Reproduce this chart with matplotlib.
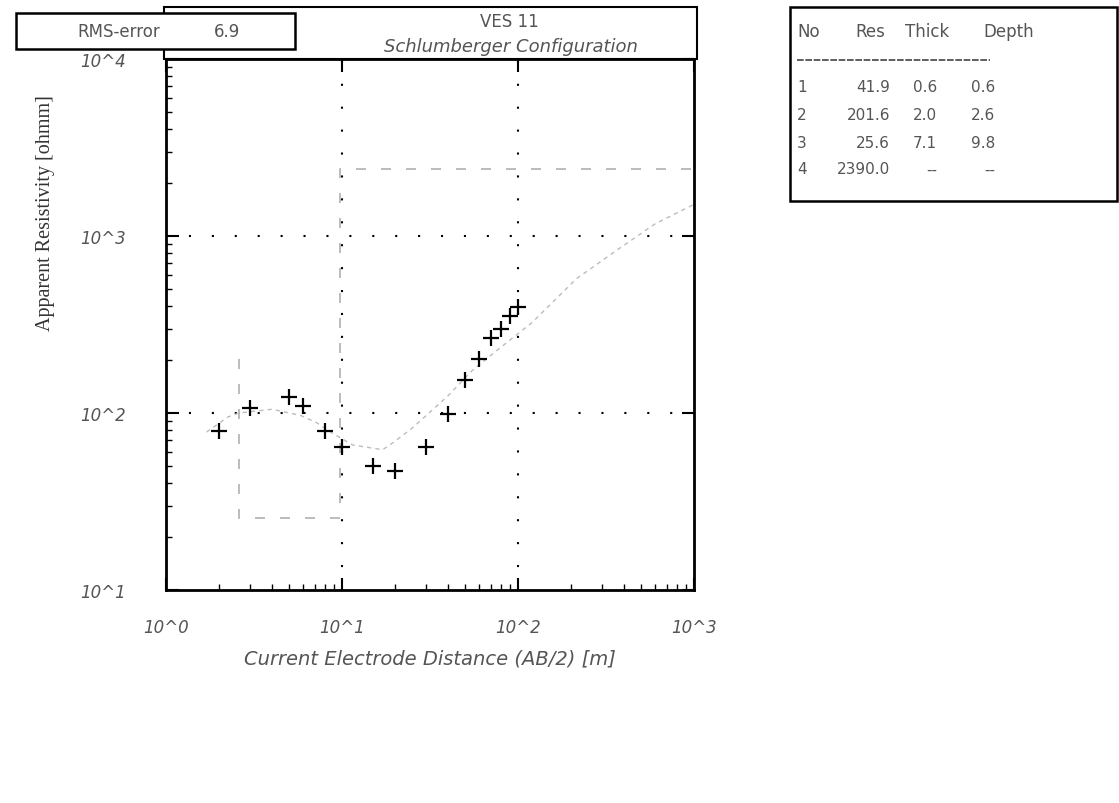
import matplotlib
matplotlib.use("Agg")
import matplotlib.pyplot as plt
from matplotlib.patches import Rectangle
from matplotlib.lines import Line2D
from matplotlib.ticker import FixedLocator, FixedFormatter, LogLocator, NullFormatter

W, H = 1119, 804

# field data: half current electrode spacing AB/2 [m] and apparent resistivity [ohm m]
ab2 = [2, 3, 5, 6, 8, 10, 15, 20, 30, 40, 50, 60, 70, 80, 90, 100]
rho_app = [79, 107, 123, 109, 79, 64, 50, 47, 64, 99, 153, 201, 267, 300, 351, 399]

# theoretical curve of the fitted model
model_ab2 = [1.7, 2.25, 2.6, 4.0, 5.8, 7.2, 8.8, 11.5, 17, 19.5, 25, 40, 55, 76, 120, 215, 380, 600, 1000]
model_rho = [78, 95, 100, 105, 97, 88, 77, 66, 62, 68, 82, 125, 174, 226, 324, 574, 856, 1170, 1510]

# layered model
layer_no = [1, 2, 3, 4]
layer_res = [41.9, 201.6, 25.6, 2390.0]
layer_thick = [0.6, 2.0, 7.1]
layer_depth = [0.6, 2.6, 9.8]

xticks = [1, 10, 100, 1000]
xtick_labels = ["10^0", "10^1", "10^2", "10^3"]
yticks = [10, 100, 1000, 10000]
ytick_labels = ["10^1", "10^2", "10^3", "10^4"]

station = "VES 11"
config = "Schlumberger Configuration"
rms_error = 6.9


def fx(px):
    return px / W


def fy(py):
    return 1 - py / H


fig = plt.figure(figsize=(W / 100, H / 100), dpi=100)
ax = fig.add_axes([fx(166), fy(591), fx(694) - fx(166), fy(60) - fy(591)])
ax.set_xscale("log")
ax.set_yscale("log")
ax.set_xlim(1, 1000)
ax.set_ylim(10, 10000)

# dotted grid at inner decades
for v in xticks[1:-1]:
    ax.axvline(v, color="black", lw=1.5, ls=(0, (1, 10)), zorder=1)
for v in yticks[1:-1]:
    ax.axhline(v, color="black", lw=1.5, ls=(0, (1, 10)), zorder=1)

# step line of the layered model (from the base of layer 2 downwards)
step_x = []
step_y = []
for i in range(1, len(layer_depth)):
    d = layer_depth[i]
    step_x += [d, d]
    step_y += [layer_res[i], layer_res[i + 1]]
step_x.append(1000)
step_y.append(layer_res[-1])
ax.plot(step_x, step_y, color="#b0b0b0", lw=1.2, ls=(0, (6, 9)), zorder=2)

# model response curve
ax.plot(model_ab2, model_rho, color="#bcbcbc", lw=1.0, ls=(0, (3, 3)), zorder=2)

# field data
ax.plot(ab2, rho_app, ls="none", marker="+", color="black", ms=12, mew=1.6, zorder=3)

for s in ax.spines.values():
    s.set_linewidth(2)

ax.xaxis.set_major_locator(FixedLocator(xticks))
ax.xaxis.set_major_formatter(FixedFormatter(xtick_labels))
ax.yaxis.set_major_locator(FixedLocator(yticks))
ax.yaxis.set_major_formatter(FixedFormatter(ytick_labels))
ax.xaxis.set_minor_locator(LogLocator(base=10, subs=range(2, 10)))
ax.yaxis.set_minor_locator(LogLocator(base=10, subs=range(2, 10)))
ax.xaxis.set_minor_formatter(NullFormatter())
ax.yaxis.set_minor_formatter(NullFormatter())
ax.tick_params(which="major", direction="in", length=9, width=1.5,
               top=True, right=True, labelsize=12)
ax.tick_params(axis="x", which="major", pad=20)
ax.tick_params(axis="y", which="major", pad=29)
ax.tick_params(which="minor", direction="in", length=4, width=1,
               top=False, right=False)
for lab in ax.get_xticklabels() + ax.get_yticklabels():
    lab.set_fontstyle("italic")
    lab.set_color("#555555")

ax.set_xlabel("Current Electrode Distance (AB/2) [m]", fontsize=14,
              fontstyle="italic", color="#555555", labelpad=9)
fig.text(fx(46), fy(213), "Apparent Resistivity [ohmm]", rotation=90,
         ha="center", va="center", fontsize=14.5, family="Liberation Serif",
         color="#333333")

# header box with station name
fig.add_artist(Rectangle((fx(164), fy(60)), fx(697) - fx(164), fy(8) - fy(60),
                         transform=fig.transFigure, fill=False, lw=1.5,
                         edgecolor="black"))
fig.text(fx(509), fy(22), station, ha="center", va="center", fontsize=12,
         color="#555555")
fig.text(fx(511), fy(47), config, ha="center", va="center", fontsize=13,
         fontstyle="italic", color="#555555")

# rms box
fig.add_artist(Rectangle((fx(16), fy(50)), fx(295) - fx(16), fy(14) - fy(50),
                         transform=fig.transFigure, facecolor="white", lw=1.8,
                         edgecolor="black", zorder=5))
fig.text(fx(77), fy(32), "RMS-error", ha="left", va="center", fontsize=12,
         color="#555555", zorder=6)
fig.text(fx(214), fy(32), f"{rms_error}", ha="left", va="center", fontsize=12,
         color="#555555", zorder=6)

# model table
fig.add_artist(Rectangle((fx(790), fy(202)), fx(1117) - fx(790), fy(8) - fy(202),
                         transform=fig.transFigure, fill=False, lw=1.8,
                         edgecolor="black"))
fig.text(fx(797), fy(32), "No", ha="left", va="center", fontsize=12, color="#555555")
fig.text(fx(855), fy(32), "Res", ha="left", va="center", fontsize=12, color="#555555")
fig.text(fx(905), fy(32), "Thick", ha="left", va="center", fontsize=12, color="#555555")
fig.text(fx(983), fy(32), "Depth", ha="left", va="center", fontsize=12, color="#555555")
fig.add_artist(Line2D([fx(797), fx(990)], [fy(61), fy(61)], transform=fig.transFigure,
                      color="#444444", lw=1.2, ls=(0, (4, 1))))

row_y = [88, 115, 143, 170]
for i, n in enumerate(layer_no):
    y = fy(row_y[i])
    fig.text(fx(797), y, f"{n}", ha="left", va="center", fontsize=11, color="#555555")
    fig.text(fx(890), y, f"{layer_res[i]:.1f}", ha="right", va="center", fontsize=11,
             color="#555555")
    if i < len(layer_thick):
        th = f"{layer_thick[i]:.1f}"
        dp = f"{layer_depth[i]:.1f}"
    else:
        th = "--"
        dp = "--"
    fig.text(fx(937), y, th, ha="right", va="center", fontsize=11, color="#555555")
    fig.text(fx(995), y, dp, ha="right", va="center", fontsize=11, color="#555555")

fig.savefig("out.png", dpi=100)
